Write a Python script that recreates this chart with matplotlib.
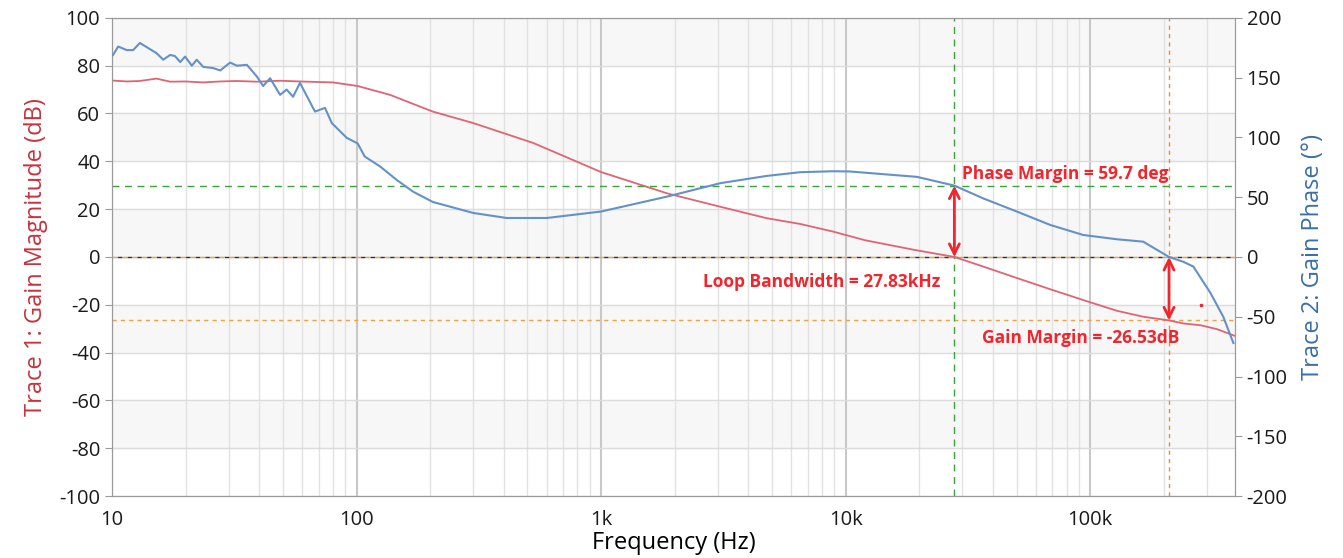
import numpy as np
import matplotlib
matplotlib.use("Agg")
from matplotlib import pyplot as plt
from matplotlib.ticker import FixedLocator, NullFormatter

plt.rcParams['font.family'] = ['Open Sans', 'DejaVu Sans']
plt.rcParams['axes.unicode_minus'] = False

# Trace 1: gain magnitude (dB)
mag_freq = [10, 11.5, 13, 15.2, 17.3, 20, 23.6, 27.7, 32.4, 39.1, 48.7, 58.7, 80,
            101, 137, 205, 300, 527, 1000, 1862, 3070, 4760, 6520, 8890, 12000,
            19000, 27830, 36500, 50100, 68600, 93500, 128500, 164700, 210000,
            240000, 284000, 330000, 390000]
mag_db = [73.8, 73.4, 73.6, 74.6, 73.3, 73.4, 73.0, 73.4, 73.6, 73.3, 73.7, 73.4, 73.0,
          71.5, 67.8, 60.8, 56.0, 47.7, 35.5, 26.6, 21.0, 16.2, 13.8, 10.6, 7.0,
          3.0, 0.0, -4.0, -8.8, -13.5, -18.0, -22.5, -25.0, -26.53,
          -27.8, -28.6, -30.2, -33.0]

# Trace 2: gain phase (deg)
ph_freq = [10.1, 10.6, 11.5, 12.2, 13.0, 15.2, 16.2, 17.3, 18.1, 19.0, 19.9, 21.2,
           22.2, 23.6, 25.9, 27.7, 30.4, 32.4, 35.6, 39.1, 41.5, 44.3, 48.7, 51.8,
           55.0, 58.7, 67.6, 74.3, 79.2, 91.2, 101, 108, 125, 146, 170, 205, 300,
           411, 600, 1000, 1862, 3070, 4760, 6520, 8890, 10400, 19550, 27830,
           36500, 50100, 68600, 93500, 128500, 164700, 210000, 240000, 264000,
           310000, 350000, 385000]
ph_deg = [169, 176, 173, 173, 179, 170.5, 165, 169, 168, 163, 167.6, 160,
          165, 159, 158, 156, 162.6, 160, 160.7, 151, 143, 149.5, 135.6, 140,
          134, 145.6, 121.6, 124.7, 112, 99.6, 95, 84, 75.6, 64.4, 54.7, 46, 36.8,
          32.6, 32.6, 38, 50.5, 61.7, 67.8, 70.9, 71.7, 71.5, 67, 59.7,
          49, 38, 26.8, 18.4, 14.8, 12.8, 0, -4, -8,
          -30, -50, -72]

crossover = 27830
phase_margin = 59.7
gm_freq = 210000
gain_margin = -26.53
xticks = [10, 100, 1000, 10000, 100000]
xticklabels = ['10', '100', '1k', '10k', '100k']

red = '#e06474'
blue = '#6491c8'
ann = '#f0252d'

fig = plt.figure(figsize=(13.43, 5.58), dpi=100)
ax = fig.add_axes([0.0834, 0.111, 0.836, 0.857])
ax2 = ax.twinx()

ax.set_xscale('log')
ax.set_xlim(10, 390000)
ax.set_ylim(-100, 100)
ax2.set_ylim(-200, 200)

# alternating bands
for lo in [80, 40, 0, -40, -80]:
    ax.axhspan(lo, lo + 20, color='#f7f7f7', zorder=0)

ax.set_yticks(np.arange(-100, 101, 20))
ax2.set_yticks(np.arange(-200, 201, 50))
ax.xaxis.set_major_locator(FixedLocator(xticks))
ax.set_xticklabels(xticklabels)
minors = [m * 10 ** d for d in range(1, 6) for m in range(2, 10) if m * 10 ** d < 390000]
ax.xaxis.set_minor_locator(FixedLocator(minors))
ax.xaxis.set_minor_formatter(NullFormatter())

ax.grid(True, axis='y', color='#dcdcdc', lw=1, zorder=1)
ax.grid(True, which='major', axis='x', color='#c8c8c8', lw=1.5, zorder=1)
ax.grid(True, which='minor', axis='x', color='#e2e2e2', lw=1, zorder=1)
ax.set_axisbelow(True)

for a in (ax, ax2):
    for s in a.spines.values():
        s.set_color('#9a9a9a')
    a.tick_params(axis='both', which='both', colors='#9a9a9a', labelcolor='#1a1a1a',
                  labelsize=14.5)
ax.tick_params(axis='x', which='both', length=0, pad=10)
ax.tick_params(axis='y', length=5)
ax2.tick_params(axis='y', length=5)

# reference lines
ax.axhline(0, color='#f0a040', lw=1, ls=(0, (4, 3)), zorder=2)
ax.axhline(0, color='#333333', lw=1, ls=(3, (3, 4)), zorder=2)
ax.axhline(gain_margin, color='#f5a040', lw=1, ls=(0, (3, 3)), zorder=2)
ax2.axhline(phase_margin, color='#3aa33a', lw=1, ls=(0, (5, 4)), zorder=2)
ax.axvline(crossover, color='#3aa33a', lw=1, ls=(0, (5, 4)), zorder=2)
ax.axvline(gm_freq, color='#f08a30', lw=1, ls=(0, (3, 3)), zorder=2)

ax.plot(mag_freq, mag_db, color=red, lw=1.3, zorder=3)
ax2.plot(ph_freq, ph_deg, color=blue, lw=1.5, zorder=3)

# arrows
ax2.annotate('', xy=(crossover, phase_margin), xytext=(crossover, 0),
             arrowprops=dict(arrowstyle='<->', color=ann, lw=2, mutation_scale=18,
                             shrinkA=0, shrinkB=0), zorder=5)
ax.annotate('', xy=(gm_freq, 0), xytext=(gm_freq, gain_margin),
            arrowprops=dict(arrowstyle='<->', color=ann, lw=2, mutation_scale=18,
                            shrinkA=0, shrinkB=0), zorder=5)
ax.plot([284000], [-20], 's', color=ann, ms=2, zorder=5)

ax2.text(29900, 69, 'Phase Margin = %.1f deg' % phase_margin, color=ann,
         fontsize=12.5, fontweight='bold', va='center', ha='left')
ax.text(24300, -10.5, 'Loop Bandwidth = %.2fkHz' % (crossover / 1000), color=ann,
        fontsize=12.5, fontweight='bold', va='center', ha='right')
ax.text(36100, -33.8, 'Gain Margin = %.2fdB' % gain_margin, color=ann,
        fontsize=12.5, fontweight='bold', va='center', ha='left')

ax.set_ylabel('Trace 1: Gain Magnitude (dB)', color='#c8323c', fontsize=17, labelpad=8)
ax2.set_ylabel('Trace 2: Gain Phase (°)', color='#3a6ea8', fontsize=17, labelpad=10)
ax.set_xlabel('Frequency (Hz)', fontsize=17, labelpad=1)

fig.savefig('out.png', dpi=100)
